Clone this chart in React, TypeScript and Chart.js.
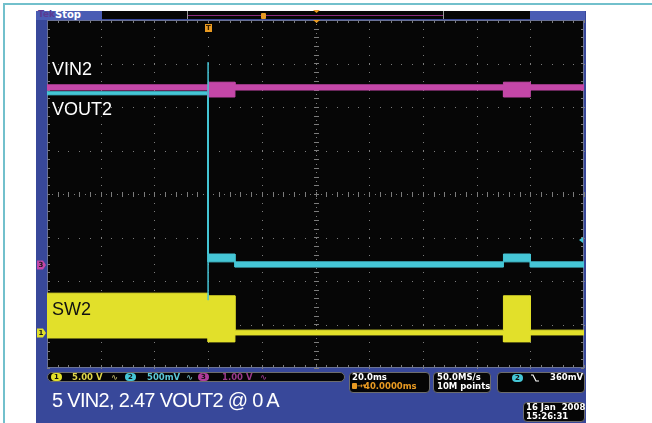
import React, { useEffect, useRef } from "react";
import { Chart, registerables } from "chart.js";

Chart.register(...registerables);

// ---- data (time in ms, amplitude in screen divisions) ----
const timeEdgesMs = [-60, 0, 10, 110, 120, 140];
const vin2Upper = [2.51, 2.57, 2.51, 2.57, 2.51];
const vin2Lower = [2.39, 2.23, 2.39, 2.23, 2.39];
const vout2Upper = [2.35, -1.38, -1.56, -1.38, -1.56];
const vout2Lower = [2.28, -1.56, -1.68, -1.56, -1.68];
const sw2Upper = [-2.28, -2.34, -3.13, -2.34, -3.13];
const sw2Lower = [-3.31, -3.4, -3.24, -3.4, -3.24];
const vout2SpikeTimeMs = [0, 0];
const vout2SpikeLevel = [3.03, -2.44];
const xRangeMs = [-60, 140];
const yRangeDiv = [-4, 4];
const triggerTimeMs = 0;
const centerTimeMs = 40;
const markerLabels = ["3", "1"];
const markerLevels = [-1.63, -3.2];
const triggerLevelDiv = -1.06;
const traceLabels = ["VIN2", "VOUT2", "SW2"];
const channelNumbers = ["1", "2", "3"];
const channelScales = ["5.00 V", "500mV", "1.00 V"];
const timebaseText = "20.0ms";
const delayText = "40.0000ms";
const sampleRateText = "50.0MS/s";
const recordText = "10M points";
const triggerText = "360mV";
const dateText = "16 Jan  2008";
const timeText = "15:26:31";
const captionText = "5 VIN2, 2.47 VOUT2 @ 0 A";

const MAG = "#c447a8";
const CYAN = "#45c6d6";
const YEL = "#e2e02a";
const ORANGE = "#e89a22";
const PANEL = "#38489a";
const PANEL_LIGHT = "#4a5cb4";

function stepPoints(values: number[]) {
  const pts: { x: number; y: number }[] = [];
  values.forEach((v, i) => {
    pts.push({ x: timeEdgesMs[i], y: v });
    pts.push({ x: timeEdgesMs[i + 1], y: v });
  });
  return pts;
}

const scopePlugin = {
  id: "scope",
  beforeDraw(chart: any) {
    const { ctx, chartArea, scales } = chart;
    const { left, right, top, bottom } = chartArea;
    const xs = scales.x;
    const ys = scales.y;
    ctx.save();
    ctx.fillStyle = "#060606";
    ctx.fillRect(left, top, right - left, bottom - top);
    ctx.fillStyle = "#7c7c7c";
    const minorY: number[] = [];
    for (let v = yRangeDiv[0]; v <= yRangeDiv[1] + 1e-6; v += 0.2) minorY.push(v);
    const minorX: number[] = [];
    for (let t = xRangeMs[0]; t <= xRangeMs[1] + 1e-6; t += 4) minorX.push(t);
    // vertical dotted grid lines
    for (let t = xRangeMs[0] + 20; t < xRangeMs[1]; t += 20) {
      const px = Math.round(xs.getPixelForValue(t));
      if (t === centerTimeMs) {
        minorY.forEach((v) => {
          const py = Math.round(ys.getPixelForValue(v));
          ctx.fillRect(px - 2, py, 5, 1);
          const pm = Math.round(ys.getPixelForValue(v + 0.1));
          if (v < yRangeDiv[1]) ctx.fillRect(px, pm, 1, 1);
        });
      } else {
        minorY.forEach((v) => {
          const py = Math.round(ys.getPixelForValue(v));
          ctx.fillRect(px, py, 1, 1);
        });
      }
    }
    // horizontal dotted grid lines
    for (let d = yRangeDiv[0] + 1; d < yRangeDiv[1]; d += 1) {
      const py = Math.round(ys.getPixelForValue(d));
      if (d === 0) {
        minorX.forEach((t) => {
          const px = Math.round(xs.getPixelForValue(t));
          ctx.fillRect(px, py - 2, 1, 5);
          const pm = Math.round(xs.getPixelForValue(t + 2));
          if (t < xRangeMs[1]) ctx.fillRect(pm, py, 1, 1);
        });
      } else {
        minorX.forEach((t) => {
          const px = Math.round(xs.getPixelForValue(t));
          ctx.fillRect(px, py, 1, 1);
        });
      }
    }
    // edge ticks
    minorX.forEach((t) => {
      const px = Math.round(xs.getPixelForValue(t));
      ctx.fillRect(px, top, 1, 3);
      ctx.fillRect(px, bottom - 3, 1, 3);
    });
    minorY.forEach((v) => {
      const py = Math.round(ys.getPixelForValue(v));
      ctx.fillRect(left, py, 3, 1);
      ctx.fillRect(right - 3, py, 3, 1);
    });
    ctx.strokeStyle = "#6a7296";
    ctx.lineWidth = 1;
    ctx.strokeRect(left + 0.5, top + 0.5, right - left - 1, bottom - top - 1);
    ctx.restore();
  },
  afterDraw(chart: any) {
    const { ctx, chartArea, scales } = chart;
    const xs = scales.x;
    const ys = scales.y;
    ctx.save();
    // trigger position marker
    const tx = Math.round(xs.getPixelForValue(triggerTimeMs));
    ctx.fillStyle = ORANGE;
    ctx.fillRect(tx - 3, chartArea.top + 4, 7, 8);
    ctx.fillStyle = "#3a2000";
    ctx.font = "bold 7px 'DejaVu Sans'";
    ctx.textAlign = "center";
    ctx.textBaseline = "middle";
    ctx.fillText("T", tx + 0.5, chartArea.top + 8.5);
    // center marker
    const cx = Math.round(xs.getPixelForValue(centerTimeMs));
    ctx.fillStyle = ORANGE;
    ctx.beginPath();
    ctx.moveTo(cx - 3, chartArea.top);
    ctx.lineTo(cx + 4, chartArea.top);
    ctx.lineTo(cx + 0.5, chartArea.top + 3);
    ctx.closePath();
    ctx.fill();
    ctx.beginPath();
    ctx.moveTo(cx - 3, 10);
    ctx.lineTo(cx + 4, 10);
    ctx.lineTo(cx + 0.5, 13);
    ctx.closePath();
    ctx.fill();
    // channel ground markers
    const mColors = [MAG, YEL];
    markerLabels.forEach((lab, i) => {
      const py = Math.round(ys.getPixelForValue(markerLevels[i]));
      const x0 = chartArea.left - 10;
      ctx.fillStyle = mColors[i];
      ctx.beginPath();
      ctx.moveTo(x0, py - 4.5);
      ctx.lineTo(x0 + 6, py - 4.5);
      ctx.lineTo(x0 + 9, py);
      ctx.lineTo(x0 + 6, py + 4.5);
      ctx.lineTo(x0, py + 4.5);
      ctx.closePath();
      ctx.fill();
      ctx.fillStyle = "#1a1a1a";
      ctx.font = "bold 7px 'DejaVu Sans'";
      ctx.fillText(lab, x0 + 4, py + 0.5);
    });
    // trigger level arrow (right)
    const ly = Math.round(ys.getPixelForValue(triggerLevelDiv));
    ctx.fillStyle = CYAN;
    ctx.beginPath();
    ctx.moveTo(chartArea.right - 5, ly);
    ctx.lineTo(chartArea.right - 1, ly - 3);
    ctx.lineTo(chartArea.right - 1, ly + 3);
    ctx.closePath();
    ctx.fill();
    ctx.restore();
  },
};

const abs = (left: number, top: number, extra: any = {}) => ({
  position: "absolute" as const,
  left,
  top,
  ...extra,
});

const small = {
  fontFamily: "'DejaVu Sans', sans-serif",
  fontWeight: "bold" as const,
  fontSize: 8.5,
  lineHeight: "9px",
  whiteSpace: "pre" as const,
};

export default function App() {
  const canvasRef = useRef<HTMLCanvasElement>(null);

  useEffect(() => {
    const canvas = canvasRef.current;
    if (!canvas) return;
    const line = (data: any, color: string, fill: any, width = 1) => ({
      data,
      borderColor: color,
      backgroundColor: color,
      borderWidth: width,
      pointRadius: 0,
      tension: 0,
      fill,
    });
    const chart = new Chart(canvas, {
      type: "line",
      data: {
        datasets: [
          line(
            vout2SpikeTimeMs.map((t, i) => ({ x: t, y: vout2SpikeLevel[i] })),
            "rgba(69,198,214,0.75)",
            false
          ),
          line(stepPoints(vin2Upper), MAG, false),
          line(stepPoints(vin2Lower), MAG, "-1"),
          line(stepPoints(vout2Upper), CYAN, false),
          line(stepPoints(vout2Lower), CYAN, "-1"),
          line(stepPoints(sw2Upper), YEL, false),
          line(stepPoints(sw2Lower), YEL, "-1"),
        ] as any,
      },
      options: {
        responsive: false,
        maintainAspectRatio: false,
        animation: false,
        devicePixelRatio: 1,
        events: [],
        layout: { padding: { left: 47, top: 20, right: 68, bottom: 55 } },
        scales: {
          x: { type: "linear", min: xRangeMs[0], max: xRangeMs[1], display: false },
          y: { type: "linear", min: yRangeDiv[0], max: yRangeDiv[1], display: false },
        },
        plugins: { legend: { display: false }, tooltip: { enabled: false } },
      } as any,
      plugins: [scopePlugin],
    });
    return () => chart.destroy();
  }, []);

  const oval = (left: number, top: number, bg: string, txt: string) => (
    <div
      style={abs(left, top, {
        width: 11,
        height: 8,
        borderRadius: 4,
        background: bg,
        color: "#111",
        ...small,
        fontSize: 7,
        lineHeight: "8px",
        textAlign: "center",
      })}
    >
      {txt}
    </div>
  );

  const label = { fontFamily: "'Liberation Sans', Arial, sans-serif", fontSize: 18, lineHeight: "18px" };

  return (
    <div
      style={{
        position: "absolute",
        left: 0,
        top: 0,
        width: 652,
        height: 423,
        background: "#ffffff",
        overflow: "hidden",
      }}
    >
      {/* frame lines */}
      <div style={abs(3, 3, { width: 649, height: 2, background: "#72c0cc" })} />
      <div style={abs(3, 3, { width: 2, height: 420, background: "#72c0cc" })} />
      {/* blue panel */}
      <div style={abs(36, 11, { width: 550, height: 412, background: PANEL })} />
      {/* top bar */}
      <div style={abs(36, 11, { width: 66, height: 9, background: PANEL_LIGHT })} />
      <div style={abs(38, 10, { ...small, fontSize: 9, color: "#5b3a93" })}>Tek</div>
      <div style={abs(55, 9, { ...small, fontSize: 10, lineHeight: "11px", color: "#ffffff" })}>Stop</div>
      <div style={abs(102, 11, { width: 428, height: 8, background: "#050505" })} />
      <div style={abs(530, 11, { width: 55, height: 9, background: PANEL_LIGHT })} />
      <div style={abs(187, 11, { width: 1, height: 8, background: "#9a9a9a" })} />
      <div style={abs(443, 11, { width: 1, height: 8, background: "#9a9a9a" })} />
      <div style={abs(188, 15, { width: 255, height: 1, background: "#8a2a7c" })} />
      <div style={abs(261, 13, { width: 5, height: 6, background: ORANGE, borderRadius: 1 })} />

      <canvas
        ref={canvasRef}
        width={652}
        height={423}
        style={{ position: "absolute", left: 0, top: 0, width: 652, height: 423 }}
      />

      {/* trace labels */}
      <div style={abs(52, 59.5, { ...label, color: "#ffffff" })}>{traceLabels[0]}</div>
      <div style={abs(52, 100, { ...label, color: "#ffffff" })}>{traceLabels[1]}</div>
      <div style={abs(52, 300, { ...label, color: "#111111" })}>{traceLabels[2]}</div>

      {/* channel status bar */}
      <div style={abs(47, 372, { width: 296, height: 8, border: "1px solid #6d6d6d", borderRadius: 5, background: "#050505" })} />
      {oval(51, 373, YEL, channelNumbers[0])}
      <div style={abs(72, 372.5, { ...small, color: "#e0d64a" })}>{channelScales[0]}</div>
      <div style={abs(111, 372.5, { ...small, color: "#a8a060" })}>∿</div>
      {oval(125, 373, CYAN, channelNumbers[1])}
      <div style={abs(147, 372.5, { ...small, color: "#5cc8d8" })}>{channelScales[1]}</div>
      <div style={abs(186, 372.5, { ...small, color: "#6aa8b0" })}>∿</div>
      {oval(198, 373, "#b03c9c", channelNumbers[2])}
      <div style={abs(222, 372.5, { ...small, color: "#9a3a8c" })}>{channelScales[2]}</div>
      <div style={abs(260, 372.5, { ...small, color: "#8a3480" })}>∿</div>

      {/* horizontal box */}
      <div style={abs(349, 372, { width: 79, height: 19, border: "1px solid #6d6d6d", borderRadius: 4, background: "#050505" })} />
      <div style={abs(352, 373, { ...small, color: "#ffffff" })}>{timebaseText}</div>
      <div style={abs(352, 383, { width: 5, height: 6, background: ORANGE, borderRadius: 1 })} />
      <div style={abs(357, 382, { ...small, fontSize: 7, color: ORANGE })}>→▾</div>
      <div style={abs(364, 382, { ...small, color: ORANGE })}>{delayText}</div>

      {/* acquisition box */}
      <div style={abs(433, 372, { width: 56, height: 19, border: "1px solid #6d6d6d", borderRadius: 4, background: "#050505" })} />
      <div style={abs(437, 373, { ...small, color: "#ffffff" })}>{sampleRateText}</div>
      <div style={abs(437, 382, { ...small, color: "#ffffff" })}>{recordText}</div>

      {/* trigger box */}
      <div style={abs(497, 372, { width: 86, height: 19, border: "1px solid #6d6d6d", borderRadius: 4, background: "#050505" })} />
      {oval(512, 374, CYAN, channelNumbers[1])}
      <svg style={abs(531, 374)} width={8} height={8}>
        <polyline points="0,1 2,1 5,7 8,7" fill="none" stroke="#ffffff" strokeWidth={1.2} />
      </svg>
      <div style={abs(550, 373, { ...small, color: "#ffffff" })}>{triggerText}</div>

      {/* date box */}
      <div style={abs(523, 402, { width: 60, height: 18, border: "1px solid #6d6d6d", borderRadius: 4, background: "#050505" })} />
      <div style={abs(526, 403, { ...small, color: "#ffffff" })}>{dateText}</div>
      <div style={abs(526, 412, { ...small, color: "#ffffff" })}>{timeText}</div>

      {/* caption */}
      <div
        style={abs(52, 389.5, {
          fontFamily: "'Liberation Sans', Arial, sans-serif",
          fontSize: 20,
          lineHeight: "20px",
          letterSpacing: "-0.7px",
          color: "#ffffff",
          whiteSpace: "pre",
        })}
      >
        {captionText}
      </div>
    </div>
  );
}
